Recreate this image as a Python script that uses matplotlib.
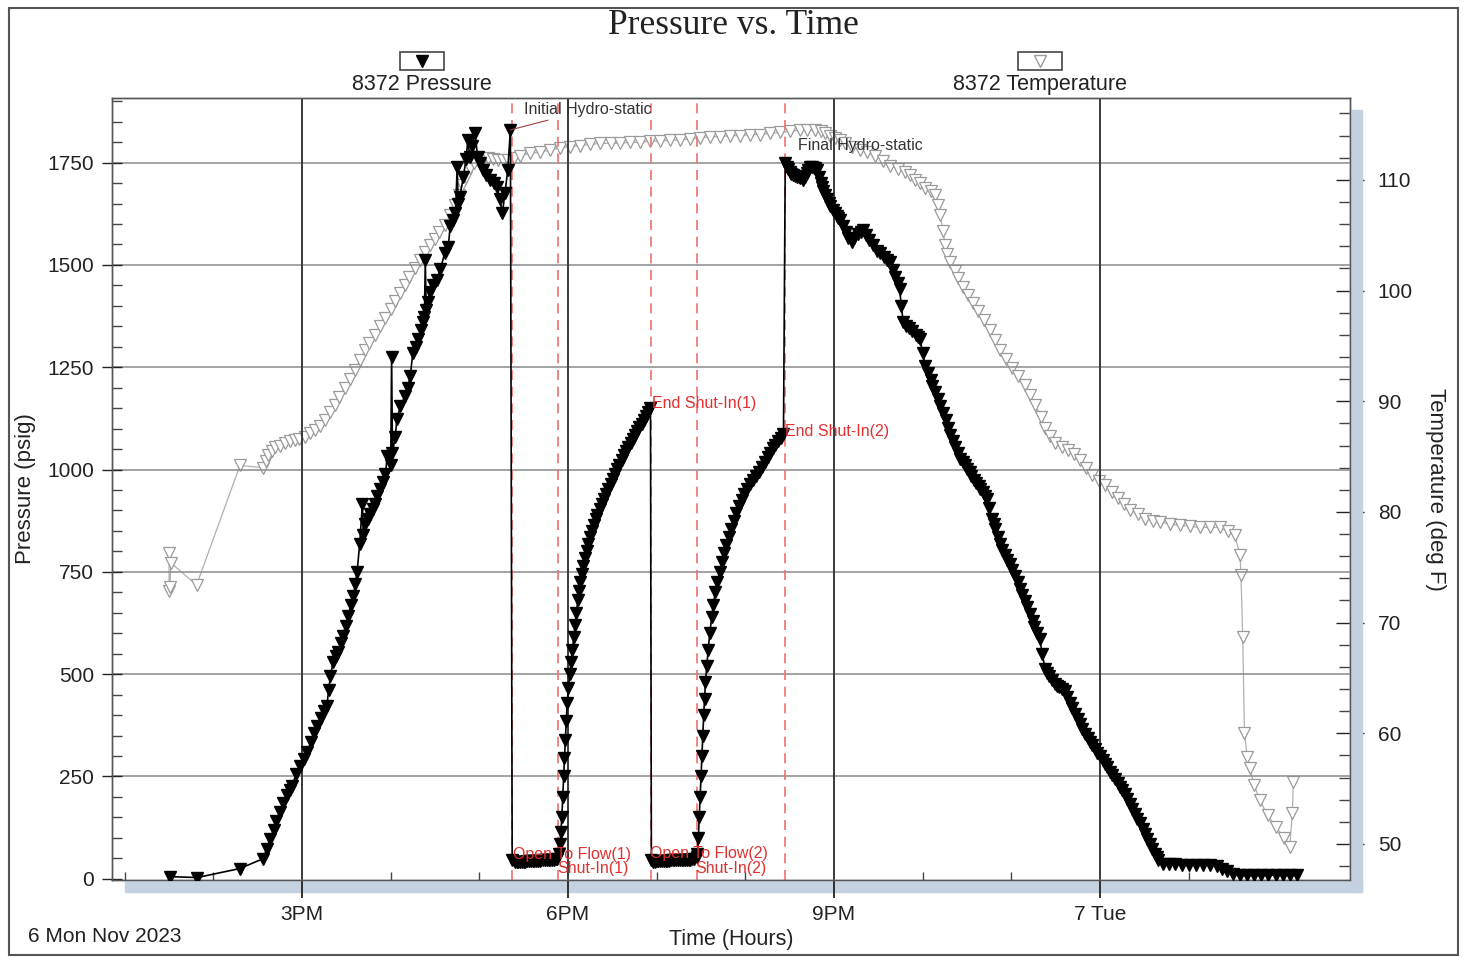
import matplotlib
matplotlib.use("Agg")
import matplotlib.pyplot as plt
from matplotlib.patches import Rectangle
from matplotlib.lines import Line2D
from matplotlib.ticker import MultipleLocator, FixedLocator

plt.rcParams['font.family'] = ['Liberation Sans', 'DejaVu Sans']

# gauge 8372 pressure, time in hours from midnight 6 Nov
p_time = [13.51, 13.82, 14.30,
          # run in
          14.56, 14.60, 14.64, 14.68, 14.71, 14.75, 14.79, 14.83, 14.86, 14.89, 14.93, 14.98,
          15.02, 15.06, 15.10, 15.14, 15.17, 15.21, 15.25, 15.28, 15.30, 15.32, 15.35, 15.38,
          15.41, 15.44, 15.46, 15.49, 15.52, 15.55, 15.58, 15.60, 15.62, 15.65, 15.68, 15.69,
          15.71, 15.74, 15.77, 15.80, 15.82, 15.85, 15.88, 15.91, 15.94, 15.96, 16.00, 16.01,
          16.02, 16.05, 16.07, 16.11, 16.16, 16.19, 16.22, 16.25, 16.28, 16.31, 16.34, 16.36,
          16.38, 16.39, 16.40, 16.42, 16.44, 16.48, 16.52, 16.56, 16.61, 16.65, 16.67, 16.70,
          16.73, 16.75, 16.76, 16.78, 16.82, 16.85, 16.87, 16.89, 16.92, 16.95, 16.98, 17.01,
          17.04, 17.08, 17.12, 17.16, 17.20, 17.23, 17.26, 17.29, 17.32, 17.35,
          # flow 1
          17.37, 17.40, 17.42, 17.44, 17.46, 17.48, 17.50, 17.52, 17.54, 17.56, 17.58, 17.60,
          17.62, 17.64, 17.66, 17.68, 17.70, 17.72, 17.74, 17.76, 17.78, 17.80, 17.82, 17.84,
          17.86, 17.88,
          # shut-in 1
          17.90, 17.91, 17.92, 17.93, 17.94, 17.95, 17.96, 17.97, 17.98, 17.99, 18.005, 18.02,
          18.035, 18.05, 18.065, 18.08, 18.095, 18.11, 18.125, 18.14, 18.155, 18.17, 18.19, 18.21,
          18.23, 18.25, 18.27, 18.29, 18.31, 18.33, 18.355, 18.38, 18.405, 18.43, 18.455, 18.48,
          18.505, 18.53, 18.555, 18.58, 18.605, 18.63, 18.655, 18.68, 18.705, 18.73, 18.755, 18.78,
          18.805, 18.83, 18.855, 18.88, 18.905, 18.93,
          # flow 2
          18.94, 18.96, 18.98, 19.00, 19.02, 19.04, 19.06, 19.08, 19.10, 19.12, 19.14, 19.16,
          19.18, 19.20, 19.22, 19.24, 19.26, 19.28, 19.30, 19.32, 19.34, 19.36, 19.38, 19.40,
          19.42, 19.45,
          # shut-in 2
          19.46, 19.47, 19.48, 19.49, 19.50, 19.51, 19.52, 19.53, 19.54, 19.55, 19.565, 19.58,
          19.60, 19.62, 19.64, 19.66, 19.685, 19.71, 19.735, 19.76, 19.785, 19.81, 19.84, 19.87,
          19.90, 19.93, 19.96, 19.99, 20.02, 20.05, 20.085, 20.12, 20.155, 20.19, 20.22, 20.25,
          20.28, 20.31, 20.34, 20.37, 20.40, 20.43,
          # final hydrostatic and pull out
          20.45, 20.47, 20.48, 20.50, 20.52, 20.54, 20.56, 20.58, 20.60, 20.62, 20.65, 20.67,
          20.69, 20.71, 20.73, 20.75, 20.77, 20.79, 20.81, 20.83, 20.85, 20.87, 20.88, 20.90,
          20.92, 20.94, 20.96, 20.99, 21.01, 21.03, 21.05, 21.07, 21.10, 21.13, 21.16, 21.20,
          21.23, 21.27, 21.30, 21.33, 21.36, 21.40, 21.44, 21.48, 21.52, 21.56, 21.60, 21.63,
          21.66, 21.69, 21.72, 21.74, 21.76, 21.78, 21.81, 21.85, 21.88, 21.92, 21.95, 21.97,
          22.00, 22.03, 22.06, 22.09, 22.11, 22.14, 22.17, 22.20, 22.23, 22.26, 22.29, 22.31,
          22.34, 22.37, 22.40, 22.42, 22.45, 22.48, 22.50, 22.53, 22.55, 22.58, 22.60, 22.63,
          22.65, 22.68, 22.70, 22.73, 22.75, 22.78, 22.80, 22.82, 22.85, 22.87, 22.90, 22.93,
          22.95, 22.98, 23.01, 23.04, 23.07, 23.10, 23.12, 23.15, 23.18, 23.21, 23.24, 23.26,
          23.29, 23.32, 23.35, 23.38, 23.40, 23.43, 23.46, 23.49, 23.51, 23.54, 23.57, 23.60,
          23.63, 23.66, 23.69, 23.72, 23.75, 23.78, 23.80, 23.83, 23.86, 23.89, 23.91, 23.94,
          23.97, 24.00, 24.03, 24.06, 24.08, 24.11, 24.14, 24.17, 24.20, 24.23, 24.25, 24.28,
          24.31, 24.34, 24.36, 24.39, 24.42, 24.45, 24.48, 24.51, 24.53, 24.56, 24.59, 24.62,
          24.64, 24.66, 24.71, 24.78, 24.85, 24.92, 25.00, 25.08, 25.16, 25.24, 25.32, 25.38,
          25.43, 25.50, 25.58, 25.66, 25.74, 25.82, 25.90, 25.98, 26.06, 26.14, 26.22]
p_psig = [5, 3, 25,
          49, 72, 98, 120, 142, 164, 185, 205, 218, 227, 255, 276,
          293, 310, 335, 355, 373, 392, 410, 422, 462, 495, 530, 545,
          554, 575, 593, 618, 642, 668, 691, 720, 749, 818, 915, 840,
          866, 878, 891, 903, 915, 935, 952, 970, 988, 1032, 1010, 1276,
          1040, 1080, 1123, 1155, 1179, 1200, 1228, 1286, 1300, 1318, 1340, 1360,
          1374, 1513, 1390, 1410, 1433, 1450, 1464, 1489, 1530, 1545, 1594, 1610,
          1628, 1740, 1650, 1667, 1716, 1760, 1806, 1765, 1790, 1823, 1765, 1750,
          1733, 1720, 1708, 1700, 1691, 1660, 1628, 1677, 1733, 1830,
          45, 40, 40, 41, 41, 42, 42, 42, 43, 43, 43, 43,
          44, 44, 44, 44, 45, 45, 45, 45, 46, 46, 46, 47,
          48, 49,
          60, 85, 115, 150, 200, 250, 295, 340, 385, 430, 465, 500,
          530, 560, 590, 620, 650, 680, 703, 725, 745, 765, 783, 800,
          818, 835, 850, 865, 878, 890, 903, 915, 928, 940, 953, 965,
          978, 990, 1001, 1012, 1024, 1035, 1045, 1055, 1065, 1075, 1085, 1095,
          1104, 1112, 1121, 1130, 1140, 1150,
          45, 42, 42, 43, 43, 43, 43, 44, 44, 44, 44, 45,
          45, 45, 45, 46, 46, 46, 46, 47, 47, 47, 47, 48,
          48, 52,
          60, 100, 150, 200, 250, 300, 350, 400, 440, 480, 520, 560,
          600, 640, 670, 700, 725, 750, 773, 795, 815, 835, 855, 875,
          893, 910, 925, 940, 953, 965, 975, 985, 995, 1005, 1018, 1030,
          1041, 1052, 1061, 1070, 1078, 1086,
          1750, 1740, 1735, 1726, 1722, 1720, 1718, 1716, 1714, 1712, 1708, 1716,
          1725, 1733, 1740, 1739, 1738, 1736, 1733, 1715, 1701, 1690, 1680, 1670,
          1660, 1652, 1645, 1635, 1628, 1620, 1615, 1611, 1595, 1580, 1567, 1555,
          1565, 1575, 1580, 1586, 1573, 1560, 1548, 1535, 1528, 1520, 1513, 1506,
          1488, 1470, 1455, 1440, 1400, 1360, 1352, 1345, 1338, 1330, 1324, 1318,
          1285, 1252, 1236, 1220, 1205, 1190, 1172, 1155, 1138, 1120, 1102, 1085,
          1070, 1055, 1040, 1025, 1018, 1010, 1002, 993, 984, 975, 968, 960,
          952, 945, 936, 927, 905, 880, 867, 854, 836, 818, 804, 790,
          780, 769, 755, 740, 724, 708, 693, 678, 663, 647, 631, 615,
          600, 586, 550, 513, 504, 495, 485, 476, 472, 468, 463, 459,
          445, 430, 417, 403, 390, 378, 366, 354, 345, 335, 326, 317,
          308, 300, 290, 281, 272, 262, 253, 244, 235, 225, 216, 207,
          195, 183, 171, 159, 147, 135, 122, 110, 98, 85, 73, 61,
          53, 45, 37, 35, 35, 34, 34, 34, 33, 33, 32, 25,
          18, 12, 10, 10, 9, 9, 9, 9, 9, 9, 9]

# gauge 8372 temperature
t_time = [13.50, 13.50, 13.51, 13.52, 13.81, 14.30,
          14.56, 14.59, 14.62, 14.66, 14.70, 14.75, 14.81, 14.86, 14.92, 14.97, 15.03, 15.09,
          15.15, 15.20, 15.26, 15.31, 15.37, 15.42, 15.48, 15.54, 15.60, 15.65, 15.71, 15.76,
          15.82, 15.88, 15.94, 16.00, 16.05, 16.10, 16.16, 16.21, 16.27, 16.33, 16.39, 16.44,
          16.50, 16.55, 16.61, 16.67, 16.73, 16.77, 16.80, 16.85, 16.89, 16.94, 16.98, 17.04,
          17.10, 17.15, 17.21, 17.27, 17.32, 17.39, 17.46, 17.57, 17.68, 17.80, 17.91, 18.02,
          18.14, 18.25, 18.36, 18.48, 18.59, 18.70, 18.81, 18.92, 19.04, 19.15, 19.26, 19.38,
          19.49, 19.60, 19.71, 19.83, 19.94, 20.05, 20.17, 20.28, 20.39, 20.50, 20.62, 20.70,
          20.79, 20.85, 20.90, 20.96, 21.01, 21.07, 21.12, 21.20, 21.29, 21.37, 21.46, 21.55,
          21.63, 21.72, 21.80, 21.86, 21.91, 21.97, 22.03, 22.09, 22.14, 22.17, 22.20, 22.23,
          22.25, 22.28, 22.31, 22.36, 22.40, 22.46, 22.51, 22.57, 22.62, 22.69, 22.76, 22.82,
          22.87, 22.94, 23.01, 23.08, 23.15, 23.21, 23.27, 23.33, 23.38, 23.44, 23.49, 23.57,
          23.64, 23.71, 23.77, 23.84, 23.91, 23.99, 24.06, 24.13, 24.20, 24.27, 24.34, 24.43,
          24.51, 24.60, 24.68, 24.79, 24.90, 25.01, 25.13, 25.24, 25.35, 25.44, 25.52, 25.58,
          25.59, 25.61, 25.63, 25.66, 25.69, 25.74, 25.80, 25.89, 25.99, 26.08, 26.14, 26.17,
          26.18]
t_degf = [76.3, 72.9, 73.2, 75.4, 73.4, 84.2,
          84.0, 84.6, 85.1, 85.5, 85.9, 86.0, 86.2, 86.4, 86.5, 86.6, 86.8, 87.1,
          87.4, 87.8, 88.3, 89.0, 89.7, 90.4, 91.2, 92.0, 92.8, 93.7, 94.6, 95.3,
          96.0, 96.8, 97.5, 98.3, 99.1, 99.8, 100.5, 101.2, 102.0, 102.8, 103.5, 104.1,
          104.7, 105.3, 105.9, 106.8, 107.7, 108.6, 109.5, 110.3, 111.1, 111.5, 111.8, 111.9,
          112.0, 111.9, 111.8, 111.8, 111.8, 112.0, 112.2, 112.4, 112.5, 112.7, 112.9, 113.0,
          113.1, 113.2, 113.3, 113.3, 113.3, 113.4, 113.4, 113.5, 113.5, 113.6, 113.6, 113.7,
          113.8, 113.9, 113.9, 114.0, 114.0, 114.1, 114.1, 114.2, 114.3, 114.4, 114.5, 114.5,
          114.5, 114.4, 114.2, 114.0, 113.8, 113.6, 113.3, 113.0, 112.7, 112.5, 112.2, 111.7,
          111.3, 111.0, 110.7, 110.4, 110.0, 109.7, 109.3, 109.0, 108.6, 107.7, 106.8, 105.4,
          104.1, 103.3, 102.6, 101.8, 101.1, 100.3, 99.6, 98.9, 98.2, 97.3, 96.4, 95.5,
          94.6, 93.8, 93.0, 92.3, 91.5, 90.6, 89.7, 88.6, 87.6, 86.9, 86.2, 85.9,
          85.6, 85.2, 84.7, 84.0, 83.3, 82.8, 82.4, 81.8, 81.3, 80.7, 80.2, 79.8,
          79.4, 79.2, 79.1, 78.9, 78.8, 78.7, 78.6, 78.6, 78.6, 78.3, 77.9, 76.1,
          74.3, 68.7, 60.0, 57.9, 56.9, 55.3, 54.0, 52.6, 51.5, 50.5, 49.7, 52.8,
          55.6]

# test events
event_times = [17.37, 17.89, 18.94, 19.455, 20.445]

x_ticks = [15, 18, 21, 24]
x_labels = ['3PM', '6PM', '9PM', '7 Tue']

red = '#e03030'

fig = plt.figure(figsize=(14.65, 9.57), dpi=100)
ax = fig.add_axes([0.0765, 0.0805, 0.8450, 0.8171])
ax2 = ax.twinx()

# grid
for y in range(250, 1751, 250):
    ax.axhline(y, color='#8a8a8a', lw=1.1, zorder=0)
for x in x_ticks:
    ax.axvline(x, color='#3a3a3a', lw=1.4, zorder=0)

for t in event_times:
    ax.axvline(t, color='#f07070', lw=1.2, ls=(0, (6, 4)), zorder=1)

ax2.plot(t_time, t_degf, color='#b0b0b0', lw=0.9, marker='v', ms=9,
         mfc='white', mec='#9a9a9a', mew=0.9, zorder=2)
ax.plot(p_time, p_psig, color='black', lw=1.2, marker='v', ms=8,
        mfc='black', mec='black', zorder=3)

# pressure on top of temperature
ax.set_zorder(ax2.get_zorder() + 1)
ax.patch.set_visible(False)

ax.set_xlim(12.857, 26.82)
ax.set_ylim(-3, 1908)
ax2.set_ylim(46.75, 117.4)

ax.set_yticks(range(0, 1751, 250))
ax.yaxis.set_minor_locator(MultipleLocator(50))
ax2.set_yticks(range(50, 111, 10))
ax2.yaxis.set_minor_locator(MultipleLocator(2))
ax.set_xticks(x_ticks)
ax.set_xticklabels(x_labels)
ax.xaxis.set_minor_locator(FixedLocator([h for h in range(13, 27) if h not in x_ticks]))

ax.tick_params(axis='y', which='major', direction='inout', length=14, width=1, labelsize=15, pad=6, colors='#222222')
ax.tick_params(axis='y', which='minor', direction='in', length=7, width=1, colors='#444444')
ax.tick_params(axis='x', which='major', direction='out', length=13, width=1.3, labelsize=15, pad=5, colors='#222222')
ax.tick_params(axis='x', which='minor', direction='in', length=6, width=1, colors='#444444')
ax2.tick_params(axis='y', which='major', direction='inout', length=20, width=1, labelsize=15, pad=10, colors='#222222')
ax2.tick_params(axis='y', which='minor', direction='in', length=8, width=1, colors='#444444')

for a in (ax, ax2):
    for s in a.spines.values():
        s.set_color('#555555')
        s.set_linewidth(1.0)

ax.set_ylabel('Pressure (psig)', fontsize=16, color='#222222')
ax2.set_ylabel('Temperature (deg F)', fontsize=16, color='#222222', rotation=270)
ax.set_xlabel('Time (Hours)', fontsize=15.5, color='#222222')
ax.yaxis.set_label_coords(-0.0614, 0.5)
ax2.yaxis.set_label_coords(1.0775, 0.5)
ax.xaxis.set_label_coords(0.5, -0.0627)

# 3D shadow on the plot frame
shade = '#c3d1e0'
ax.add_patch(Rectangle((1.0, -0.0153), 0.0097, 1.0, transform=ax.transAxes,
                       color=shade, clip_on=False, zorder=0))
ax.add_patch(Rectangle((0.0105, -0.0153), 0.9992, 0.0153, transform=ax.transAxes,
                       color=shade, clip_on=False, zorder=0))

# event labels
ax.annotate('Initial Hydro-static', xy=(17.35, 1830), xytext=(17.50, 1879),
            fontsize=11.5, color='#333333', va='center', ha='left',
            arrowprops=dict(arrowstyle='-', color='#a04040', lw=0.8, shrinkA=0, shrinkB=0))
ax.text(20.59, 1791, 'Final Hydro-static', fontsize=11.5, color='#333333', va='center', ha='left')
ax.text(18.95, 1162, 'End Shut-In(1)', fontsize=11.5, color=red, va='center', ha='left')
ax.text(20.45, 1093, 'End Shut-In(2)', fontsize=11.5, color=red, va='center', ha='left')
ax.text(17.38, 59, 'Open To Flow(1)', fontsize=11.5, color=red, va='center', ha='left')
ax.text(17.88, 24, 'Shut-In(1)', fontsize=11.5, color=red, va='center', ha='left')
ax.text(18.93, 61, 'Open To Flow(2)', fontsize=11.5, color=red, va='center', ha='left')
ax.text(19.44, 24, 'Shut-In(2)', fontsize=11.5, color=red, va='center', ha='left')

# title and legend above the plot
fig.text(0.5003, 0.973, 'Pressure vs. Time', fontsize=25.5, family='Liberation Serif',
         ha='center', va='center', color='#222222')
for cx, label, fc, ec in [(0.288, '8372 Pressure', 'black', 'black'),
                          (0.710, '8372 Temperature', 'white', '#9a9a9a')]:
    fig.add_artist(Rectangle((cx - 0.015, 0.927), 0.030, 0.019, transform=fig.transFigure,
                             fill=False, ec='#444444', lw=1.2))
    fig.add_artist(Line2D([cx], [0.9365], transform=fig.transFigure, marker='v', ms=8,
                          mfc=fc, mec=ec, ls='none'))
    fig.text(cx, 0.912, label, fontsize=15.5, ha='center', va='center', color='#222222')

fig.text(0.019, 0.021, '6 Mon Nov 2023', fontsize=15, ha='left', va='center', color='#222222')

# outer frame
fig.add_artist(Rectangle((0.006, 0.002), 0.989, 0.990, transform=fig.transFigure,
                         fill=False, ec='#555555', lw=1.5))

fig.savefig('out.png', dpi=100)
